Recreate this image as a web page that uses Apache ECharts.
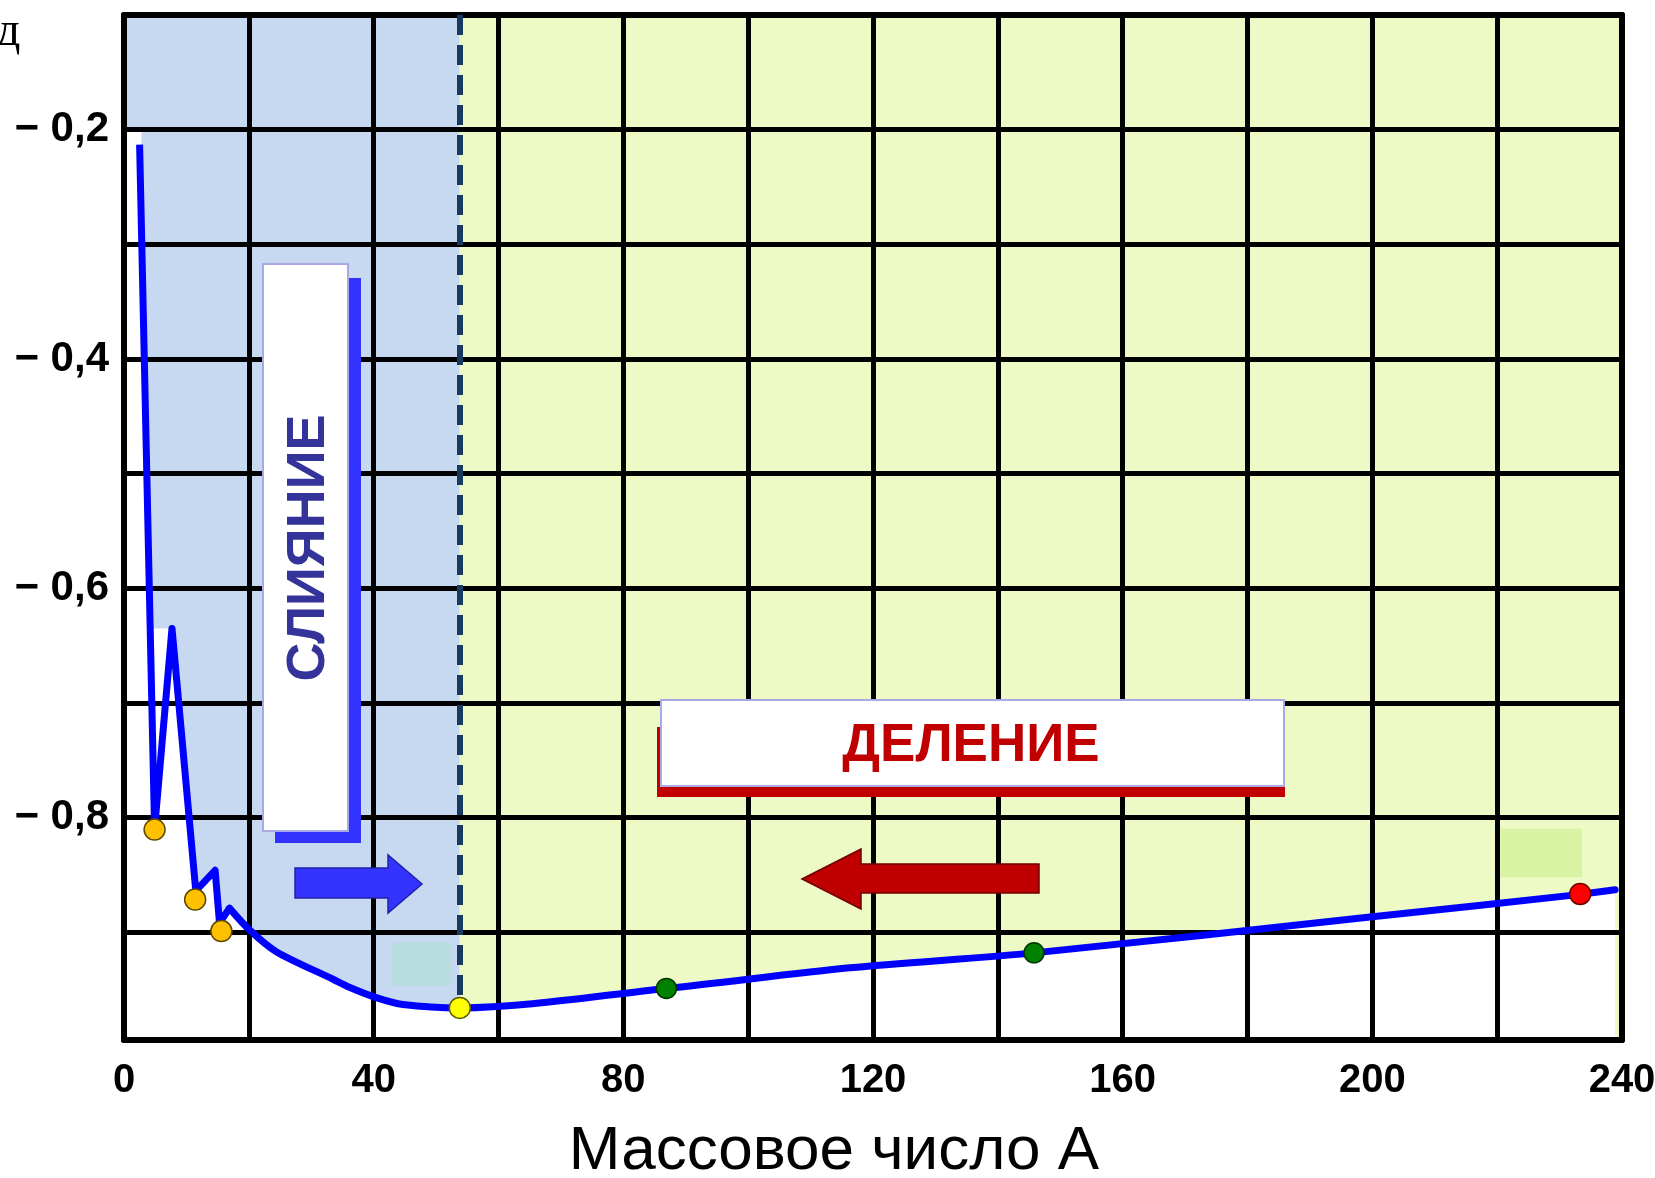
<!DOCTYPE html>
<html>
<head>
<meta charset="utf-8">
<script src="https://cdn.jsdelivr.net/npm/echarts@6/dist/echarts.min.js"></script>
<style>
html,body{margin:0;padding:0;background:#fff;}
#chart{width:1655px;height:1178px;}
</style>
</head>
<body>
<div id="chart"></div>
<script>
// ---------- data ----------
const xTickValues = [0, 40, 80, 120, 160, 200, 240];
const yTickValues = [-0.2, -0.4, -0.6, -0.8];
const yTickLabels = ['− 0,2', '− 0,4', '− 0,6', '− 0,8'];

// binding-energy curve: light-nuclei zig-zag part (mass number A, value)
const zigA = [2.5, 4.9, 7.69, 11.5, 14.6, 15.3, 16.9];
const zigE = [-0.213, -0.81, -0.635, -0.864, -0.846, -0.892, -0.879];
// smooth part of the curve
const smoothA = [16.9, 20.1, 24.4, 33.5, 36.1, 40.4, 44.7, 53.8, 86.9, 116.3, 145.8, 200, 233.3, 238.9];
const smoothE = [-0.879, -0.898, -0.917, -0.941, -0.948, -0.957, -0.963, -0.966, -0.949, -0.931, -0.918, -0.8865, -0.867, -0.863];

// marked nuclei
const lightDotsA = [4.9, 11.4, 15.6];
const lightDotsE = [-0.8105, -0.8715, -0.899];
const ironDotA = [53.8];
const ironDotE = [-0.966];
const midDotsA = [86.9, 145.8];
const midDotsE = [-0.949, -0.918];
const heavyDotA = [233.3];
const heavyDotE = [-0.8666];

// regions
const fusionFissionBorderA = 53.8;
const xMin = 0, xMax = 240, yMin = -0.994, yMax = -0.1;
const leftStripA = [0, 2.8], leftStripTopE = -0.2;
const notchA = [4.22, 7.69];          // white notch inside first zig-zag
const tealPatchA = [43.0, 52.5], tealPatchE = [-0.909, -0.947];
const greenPatchA = [220.5, 233.6], greenPatchE = [-0.8096, -0.852];

// ---------- chart ----------
const FONT = "'Liberation Sans', Arial, Helvetica, sans-serif";
const pairs = (xs, ys) => xs.map((x, i) => [x, ys[i]]);
const zig = pairs(zigA, zigE);
const smooth = pairs(smoothA, smoothE);
const WHITE = {color: '#ffffff', opacity: 1};

const chart = echarts.init(document.getElementById('chart'), null, {renderer: 'canvas'});

const option = {
  animation: false,
  backgroundColor: '#ffffff',
  grid: {left: 124, right: 33, top: 15, bottom: 138, containLabel: false, outerBoundsMode: 'none'},
  xAxis: [{
    type: 'value', min: xMin, max: xMax, interval: 20, position: 'bottom', z: 3,
    axisLine: {show: true, onZero: false, lineStyle: {color: '#000', width: 6}},
    axisTick: {show: false},
    splitLine: {show: true, lineStyle: {color: '#000', width: 5}},
    axisLabel: {
      margin: 21, fontSize: 40, fontWeight: 'bold', color: '#000', fontFamily: FONT,
      formatter: v => xTickValues.some(t => Math.abs(t - v) < 1e-6) ? String(v) : ''
    },
    name: 'Массовое число А', nameLocation: 'middle', nameGap: 81,
    nameTextStyle: {fontSize: 62, color: '#000', fontFamily: FONT, padding: [0, 78, 0, 0]}
  }, {
    type: 'value', min: xMin, max: xMax, interval: 20, position: 'top', z: 3,
    axisLine: {show: true, onZero: false, lineStyle: {color: '#000', width: 6}},
    axisTick: {show: false}, axisLabel: {show: false}, splitLine: {show: false}
  }],
  yAxis: [{
    type: 'value', min: yMin, max: yMax, minInterval: 0.1, maxInterval: 0.1, splitNumber: 9,
    position: 'left', z: 3,
    axisLine: {show: true, onZero: false, lineStyle: {color: '#000', width: 6}},
    axisTick: {show: false},
    splitLine: {show: true, lineStyle: {color: '#000', width: 5}},
    axisLabel: {
      margin: 15, fontSize: 42, fontWeight: 'bold', color: '#000', fontFamily: FONT,
      formatter: v => {
        const i = yTickValues.findIndex(t => Math.abs(t - v) < 1e-6);
        return i >= 0 ? yTickLabels[i] : '';
      }
    }
  }, {
    type: 'value', min: yMin, max: yMax, position: 'right', z: 3,
    axisLine: {show: true, onZero: false, lineStyle: {color: '#000', width: 6}},
    axisTick: {show: false}, axisLabel: {show: false}, splitLine: {show: false}
  }],
  series: [
    { // background regions
      type: 'line', name: 'bg', z: 1, silent: true, data: smooth, symbol: 'none',
      lineStyle: {opacity: 0, width: 0},
      markArea: {
        silent: true,
        data: [
          [{xAxis: xMin, itemStyle: {color: '#C6D9F1', opacity: 1}}, {xAxis: fusionFissionBorderA}],
          [{xAxis: fusionFissionBorderA, itemStyle: {color: '#EEFAC6', opacity: 1}}, {xAxis: xMax}],
          [{xAxis: tealPatchA[0], yAxis: tealPatchE[0], itemStyle: {color: '#B9DCE0', opacity: 1}},
           {xAxis: tealPatchA[1], yAxis: tealPatchE[1]}],
          [{xAxis: greenPatchA[0], yAxis: greenPatchE[0], itemStyle: {color: '#D9F3A4', opacity: 1}},
           {xAxis: greenPatchA[1], yAxis: greenPatchE[1]}]
        ]
      }
    },
    { // white area under the zig-zag part (reaching into the smooth part to avoid a seam)
      type: 'line', name: 'underZig', z: 2, silent: true, data: zig.concat([smooth[1]]), symbol: 'none',
      lineStyle: {opacity: 0, width: 0},
      areaStyle: {color: '#ffffff', opacity: 1, origin: 'start'},
      markArea: {
        silent: true,
        itemStyle: WHITE,
        data: [
          [{xAxis: leftStripA[0], yAxis: leftStripTopE, itemStyle: WHITE}, {xAxis: leftStripA[1], yAxis: yMin}],
          [{xAxis: notchA[0], yAxis: zigE[2], itemStyle: WHITE}, {xAxis: notchA[1], yAxis: yMin}]
        ]
      }
    },
    { // white area under the smooth part
      type: 'line', name: 'underSmooth', z: 2, silent: true, data: smooth, symbol: 'none',
      smooth: 0.3,
      lineStyle: {opacity: 0, width: 0},
      areaStyle: {color: '#ffffff', opacity: 1, origin: 'start'}
    },
    { // the curve, zig-zag part
      type: 'line', name: 'curveZig', z: 4, data: zig, symbol: 'none',
      lineStyle: {color: '#0000FF', width: 7, join: 'round', cap: 'butt'}
    },
    { // the curve, smooth part
      type: 'line', name: 'curveSmooth', z: 4, data: smooth, symbol: 'none',
      smooth: 0.3,
      lineStyle: {color: '#0000FF', width: 7, join: 'round', cap: 'round'},
      markLine: {
        silent: true, symbol: ['none', 'none'], label: {show: false},
        lineStyle: {color: '#173A5E', width: 6, type: [20, 10]},
        data: [[{coord: [fusionFissionBorderA, yMax]}, {coord: [fusionFissionBorderA, ironDotE[0]]}]]
      }
    },
    {
      type: 'scatter', name: 'light', z: 5, symbolSize: 21, data: pairs(lightDotsA, lightDotsE),
      itemStyle: {color: '#FFC000', borderColor: '#5C4A00', borderWidth: 1.5, opacity: 1}
    },
    {
      type: 'scatter', name: 'iron', z: 5, symbolSize: 21, data: pairs(ironDotA, ironDotE),
      itemStyle: {color: '#FFFF00', borderColor: '#5C5C00', borderWidth: 1.5, opacity: 1}
    },
    {
      type: 'scatter', name: 'mid', z: 5, symbolSize: 20, data: pairs(midDotsA, midDotsE),
      itemStyle: {color: '#008000', borderColor: '#003300', borderWidth: 1.5, opacity: 1}
    },
    {
      type: 'scatter', name: 'heavy', z: 5, symbolSize: 21, data: pairs(heavyDotA, heavyDotE),
      itemStyle: {color: '#FF0000', borderColor: '#700000', borderWidth: 1.5, opacity: 1}
    }
  ],
  graphic: {
    elements: [
      // clipped axis caption fragment at top-left
      {type: 'text', z: 10, x: -4, y: 32,
       style: {text: 'д', font: "48px 'Liberation Serif', 'Times New Roman', serif", fill: '#000',
               textAlign: 'left', textVerticalAlign: 'middle', align: 'left', verticalAlign: 'middle'}},
      // СЛИЯНИЕ box
      {type: 'rect', z: 10, shape: {x: 275, y: 278, width: 86, height: 565}, style: {fill: '#3333FF'}},
      {type: 'rect', z: 11, shape: {x: 263, y: 264, width: 85, height: 567},
       style: {fill: '#FFFFFF', stroke: '#A9A9E6', lineWidth: 2}},
      {type: 'text', z: 12, x: 309, y: 548, rotation: Math.PI / 2,
       style: {text: 'СЛИЯНИЕ', font: "bold 54px 'Liberation Sans', Arial, sans-serif", fill: '#333399',
               textAlign: 'center', textVerticalAlign: 'middle', align: 'center', verticalAlign: 'middle'}},
      // ДЕЛЕНИЕ box
      {type: 'rect', z: 10, shape: {x: 657, y: 727, width: 628, height: 70}, style: {fill: '#C00000'}},
      {type: 'rect', z: 11, shape: {x: 661, y: 700, width: 623, height: 86},
       style: {fill: '#FFFFFF', stroke: '#A9A9E6', lineWidth: 2}},
      {type: 'text', z: 12, x: 971, y: 746,
       style: {text: 'ДЕЛЕНИЕ', font: "bold 53px 'Liberation Sans', Arial, sans-serif", fill: '#C00000',
               textAlign: 'center', textVerticalAlign: 'middle', align: 'center', verticalAlign: 'middle'}},
      // arrows
      {type: 'polygon', z: 10,
       shape: {points: [[295, 868], [388, 868], [388, 855], [422, 884], [388, 913], [388, 898], [295, 898]]},
       style: {fill: '#3333FF', stroke: '#2222AA', lineWidth: 1.5}},
      {type: 'polygon', z: 10,
       shape: {points: [[802, 879], [861, 849], [861, 864], [1039, 864], [1039, 893], [861, 893], [861, 909]]},
       style: {fill: '#C00000', stroke: '#700000', lineWidth: 1.5}}
    ]
  }
};

chart.setOption(option);
</script>
</body>
</html>
